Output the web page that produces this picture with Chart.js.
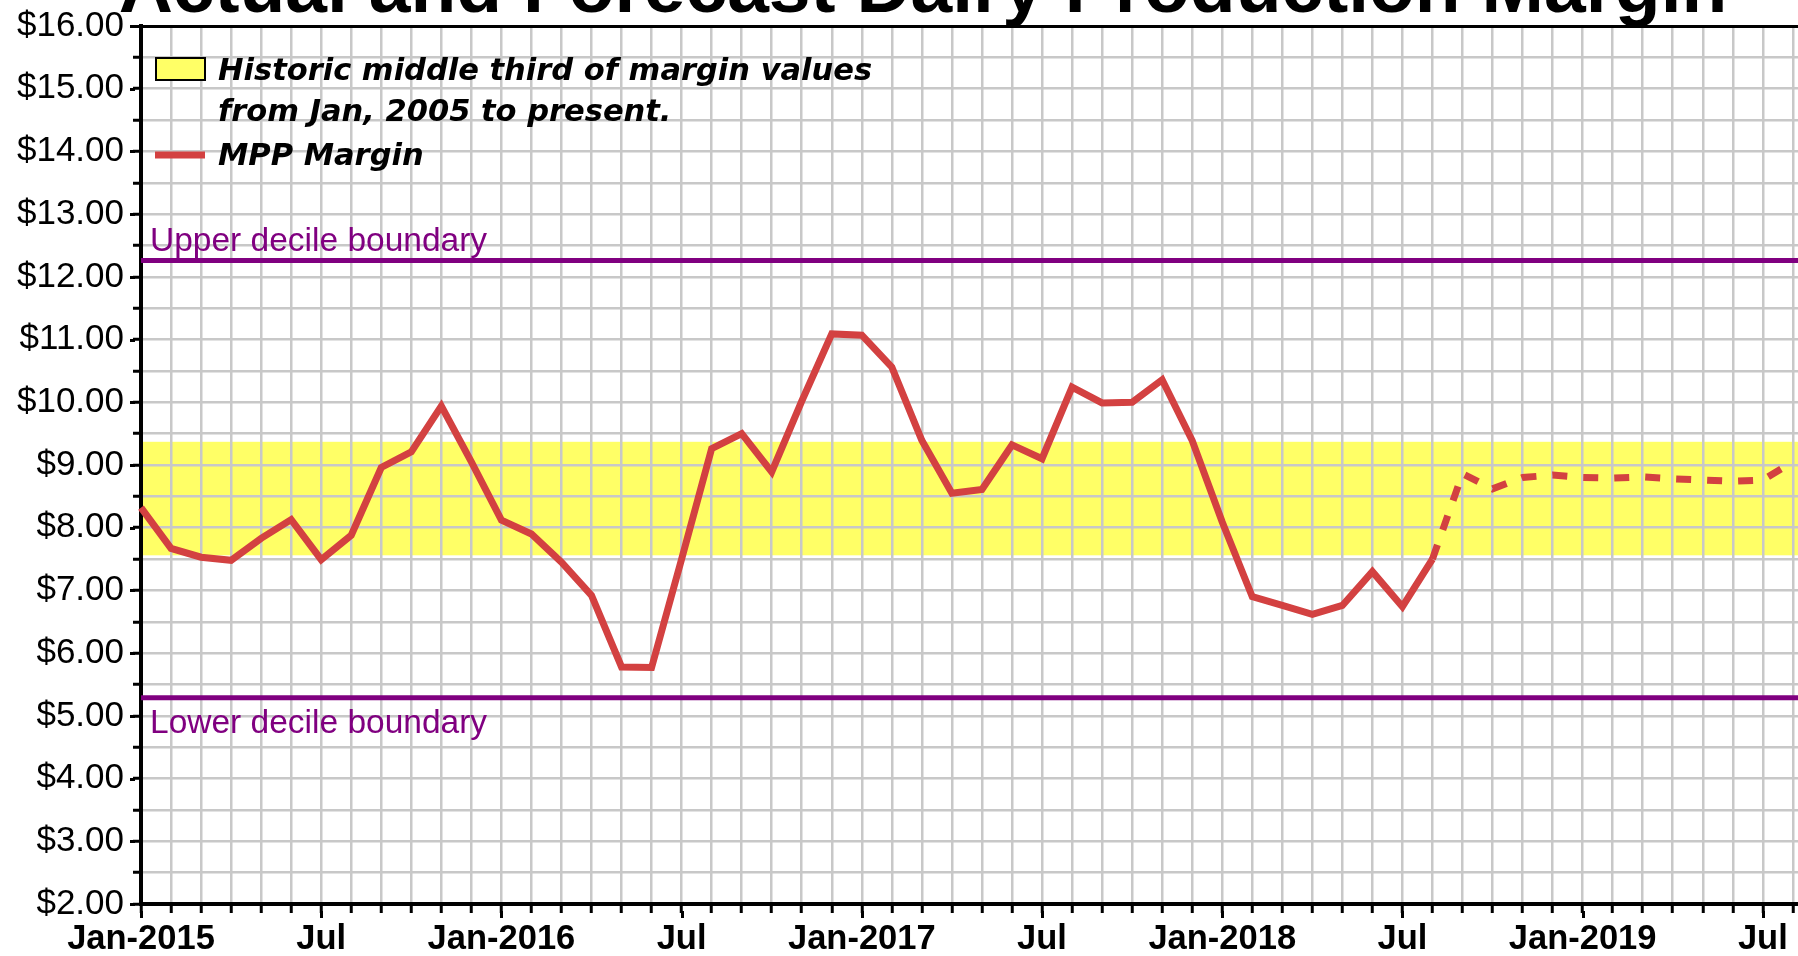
<!DOCTYPE html>
<html>
<head>
<meta charset="utf-8">
<script src="https://cdn.jsdelivr.net/npm/chart.js@4.4.1/dist/chart.umd.min.js"></script>
<style>
html,body{margin:0;padding:0;background:#fff;overflow:hidden;width:1798px;height:956px;}
#wrap{position:absolute;left:0;top:0;width:1922px;height:956px;}
canvas{display:block;}
</style>
</head>
<body>
<div id="wrap"><canvas id="c" width="1922" height="956"></canvas></div>
<script>
// ---- data ----
const monthNames = ['Jan','Feb','Mar','Apr','May','Jun','Jul','Aug','Sep','Oct','Nov','Dec'];
const years = [2015, 2016, 2017, 2018, 2019];

// Actual MPP margin, Jan-2015 .. Aug-2018
const actualMargin = [
  8.32, 7.67, 7.53, 7.48, 7.83, 8.13, 7.49, 7.88, 8.96, 9.21, 9.94, 9.05,
  8.12, 7.90, 7.45, 6.92, 5.78, 5.77, 7.50, 9.26, 9.50, 8.89, 10.02, 11.09,
  11.07, 10.56, 9.39, 8.55, 8.61, 9.32, 9.10, 10.24, 9.99, 10.00, 10.36, 9.39,
  8.09, 6.90, 6.76, 6.62, 6.76, 7.30, 6.74, 7.50
];
// Forecast MPP margin, Aug-2018 .. Aug-2019
const forecastMargin = [7.50, 8.86, 8.62, 8.80, 8.84, 8.80, 8.79, 8.81, 8.78, 8.76, 8.74, 8.76, 9.05];
const forecastStartIndex = 43;

const bandLow = 7.56;       // historic middle third, lower edge
const bandHigh = 9.37;      // historic middle third, upper edge
const upperDecile = 12.26;
const lowerDecile = 5.29;

const yMin = 2, yMax = 16, yStep = 0.5;

const titleText = 'Actual and Forecast Dairy Production Margin';
const bandLegendLines = ['Historic middle third of margin values', 'from Jan, 2005 to present.'];
const lineLegendText = 'MPP Margin';
const upperLabel = 'Upper decile boundary';
const lowerLabel = 'Lower decile boundary';

// ---- build ----
const monthKeys = [];
years.forEach(y => monthNames.forEach(m => monthKeys.push(m + '-' + y)));

const actualData = monthKeys.map((k, i) => i < actualMargin.length ? actualMargin[i] : null);
const forecastData = monthKeys.map((k, i) => {
  const j = i - forecastStartIndex;
  return (j >= 0 && j < forecastMargin.length) ? forecastMargin[j] : null;
});

const RED = '#d34141';
const PURPLE = '#800080';
const GRID = '#c8c8c8';
const YELLOW = '#ffff66';

const decor = {
  id: 'decor',
  beforeDraw(chart) {
    const {ctx, chartArea: a, scales: {y}} = chart;
    ctx.save();
    ctx.fillStyle = '#fff';
    ctx.fillRect(0, 0, chart.width, chart.height);
    const t = y.getPixelForValue(bandHigh), b = y.getPixelForValue(bandLow);
    ctx.fillStyle = YELLOW;
    ctx.fillRect(a.left, t, a.right - a.left, b - t);
    ctx.restore();
  },
  beforeDatasetsDraw(chart) {
    const {ctx, chartArea: a, scales: {y}} = chart;
    ctx.save();
    ctx.strokeStyle = PURPLE;
    ctx.lineWidth = 5;
    [upperDecile, lowerDecile].forEach(v => {
      const py = y.getPixelForValue(v);
      ctx.beginPath(); ctx.moveTo(a.left, py); ctx.lineTo(a.right, py); ctx.stroke();
    });
    ctx.fillStyle = PURPLE;
    ctx.font = '33.5px "Liberation Sans", Arial, sans-serif';
    ctx.textAlign = 'left';
    ctx.textBaseline = 'alphabetic';
    ctx.fillText(upperLabel, a.left + 9, y.getPixelForValue(upperDecile) - 10);
    ctx.fillText(lowerLabel, a.left + 9, y.getPixelForValue(lowerDecile) + 35);
    ctx.restore();
  },
  afterDraw(chart) {
    const {ctx, chartArea: a, scales: {x, y}} = chart;
    ctx.save();
    // longer major tick marks
    ctx.strokeStyle = '#000';
    ctx.lineWidth = 3;
    y.ticks.forEach(t => {
      if (Number.isInteger(t.value)) {
        const py = Math.round(y.getPixelForValue(t.value)) + 0.5;
        ctx.beginPath(); ctx.moveTo(a.left - 11, py); ctx.lineTo(a.left - 6, py); ctx.stroke();
      }
    });
    monthKeys.forEach((k, i) => {
      if (i % 6 === 0) {
        const px = Math.round(x.getPixelForValue(i)) + 0.5;
        ctx.beginPath(); ctx.moveTo(px, a.bottom + 7); ctx.lineTo(px, a.bottom + 14); ctx.stroke();
      }
    });
    // title (cropped at top in the reference)
    ctx.fillStyle = '#000';
    ctx.font = 'bold 75px "Liberation Sans", Arial, sans-serif';
    ctx.textAlign = 'center';
    ctx.textBaseline = 'alphabetic';
    ctx.fillText(titleText, 923, 12);
    // legend
    ctx.fillStyle = YELLOW;
    ctx.fillRect(156, 58, 49, 22);
    ctx.strokeStyle = '#000';
    ctx.lineWidth = 2;
    ctx.strokeRect(156, 58, 49, 22);
    ctx.strokeStyle = RED;
    ctx.lineWidth = 7;
    ctx.beginPath(); ctx.moveTo(155, 155); ctx.lineTo(205, 155); ctx.stroke();
    ctx.fillStyle = '#000';
    ctx.font = 'italic bold 30.5px "DejaVu Sans", Verdana, sans-serif';
    ctx.textAlign = 'left';
    ctx.fillText(bandLegendLines[0], 218, 80);
    ctx.fillText(bandLegendLines[1], 218, 121);
    ctx.fillText(lineLegendText, 218, 165);
    ctx.restore();
  }
};

new Chart(document.getElementById('c'), {
  type: 'line',
  data: {
    labels: monthKeys,
    datasets: [
      {
        label: 'MPP Margin',
        data: actualData,
        borderColor: RED,
        borderWidth: 7,
        pointRadius: 0,
        fill: false,
        tension: 0,
        borderJoinStyle: 'miter',
        borderCapStyle: 'butt'
      },
      {
        label: 'MPP Margin forecast',
        data: forecastData,
        borderColor: RED,
        borderWidth: 7,
        borderDash: [15, 16],
        pointRadius: 0,
        fill: false,
        tension: 0,
        borderJoinStyle: 'miter',
        borderCapStyle: 'butt'
      }
    ]
  },
  options: {
    responsive: false,
    animation: false,
    devicePixelRatio: 1,
    layout: {padding: {top: 26, right: 0, bottom: 0, left: 0}},
    plugins: {legend: {display: false}, tooltip: {enabled: false}, title: {display: false}},
    scales: {
      x: {
        type: 'category',
        offset: false,
        afterFit(s) { s.height = 52; },
        grid: {
          color: GRID, lineWidth: 2.5, offset: false,
          drawTicks: true, tickLength: 9, tickColor: '#000', tickWidth: 3
        },
        border: {display: true, color: '#000', width: 4},
        ticks: {
          autoSkip: false, maxRotation: 0, minRotation: 0, padding: 9,
          color: '#000',
          font: {family: '"Liberation Sans", Arial, sans-serif', size: 34.5, weight: 'bold', lineHeight: 1},
          callback(value) {
            const k = monthKeys[value];
            if (k.startsWith('Jan')) return k;
            if (k.startsWith('Jul')) return 'Jul';
            return '';
          }
        }
      },
      y: {
        min: yMin, max: yMax,
        afterFit(s) { s.width = 141; },
        grid: {
          color: c => (c.tick && c.tick.value === yMax) ? '#000' : GRID,
          lineWidth: c => (c.tick && c.tick.value === yMax) ? 3 : 2.5,
          drawTicks: true, tickLength: 8, tickColor: '#000', tickWidth: 3
        },
        border: {display: true, color: '#000', width: 4},
        ticks: {
          stepSize: yStep, autoSkip: false, padding: 9,
          color: '#000',
          font: {family: '"Liberation Sans", Arial, sans-serif', size: 35, lineHeight: 0.5},
          callback(v) { return Number.isInteger(v) ? '$' + v.toFixed(2) : ''; }
        }
      }
    }
  },
  plugins: [decor]
});
</script>
</body>
</html>
